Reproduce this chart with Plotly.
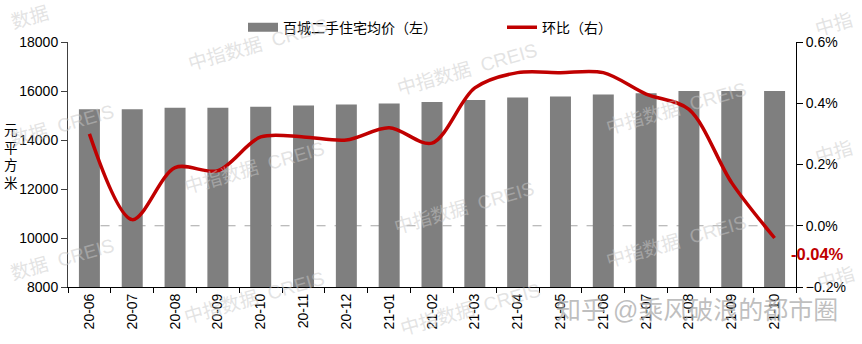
import plotly.graph_objects as go

# Monthly data: 100-city second-hand housing average price and month-on-month change
months = ["20-06", "20-07", "20-08", "20-09", "20-10", "20-11", "20-12",
          "21-01", "21-02", "21-03", "21-04", "21-05", "21-06", "21-07",
          "21-08", "21-09", "21-10"]
avg_price = [15260, 15260, 15320, 15320, 15360, 15410, 15450, 15490, 15550,
             15630, 15730, 15780, 15860, 15910, 16000, 16000, 16000]
mom_change = [0.30, 0.02, 0.19, 0.18, 0.29, 0.29, 0.28, 0.32, 0.27,
              0.45, 0.50, 0.50, 0.50, 0.43, 0.38, 0.14, -0.04]

price_name = "百城二手住宅均价（左）"
mom_name = "环比（右）"
unit_label = "元<br>平<br>方<br>米"
watermark = "中指数据  CREIS"
credit = "知乎 @乘风破浪的都市圈"

BAR_GRAY = "#7F7F7F"
LINE_RED = "#C00000"
FONT = "Arial, Liberation Sans, Noto Sans CJK SC, sans-serif"

W, H = 862, 344
M_L, M_R, M_T, M_B = 68, 66, 33, 57
PW, PH = W - M_L - M_R, H - M_T - M_B


def px_x(x):
    return (x - M_L) / PW


def px_y(y):
    return (H - M_B - y) / PH


fig = go.Figure()

fig.add_trace(go.Bar(
    x=months, y=avg_price, name=price_name, marker_color=BAR_GRAY,
    marker_line_width=0, width=0.49, showlegend=False, yaxis="y",
))
# legend entry drawn as a wide block for the bar series
fig.add_trace(go.Scatter(
    x=[months[0]], y=[None], mode="lines", name=price_name,
    line=dict(color=BAR_GRAY, width=9), yaxis="y",
))
fig.add_trace(go.Scatter(
    x=months, y=mom_change, name=mom_name, mode="lines",
    line=dict(color=LINE_RED, width=3.5, shape="spline", smoothing=0.9),
    yaxis="y2",
))

# zero reference for the month-on-month change
fig.add_shape(type="line", xref="paper", yref="y2", x0=0.02, x1=1, y0=0, y1=0,
              line=dict(color="#A6A6A6", width=1.2, dash="dash"), layer="below")

# value label at the latest month
last = mom_change[-1]
fig.add_annotation(x=months[-1], y=last, xref="x", yref="y2",
                   text=f"<b>{last:.2f}%</b>", showarrow=False,
                   xanchor="left", yanchor="middle", xshift=14, yshift=-16,
                   font=dict(family=FONT, size=16.5, color=LINE_RED))

# vertical unit label for the left axis
fig.add_annotation(x=px_x(11), y=px_y(152), xref="paper", yref="paper",
                   text=unit_label, showarrow=False, xanchor="center",
                   yanchor="middle", font=dict(family=FONT, size=13.5, color="#000"))

# background watermarks (text, centre x, centre y in page pixels)
wm_spots = [("数据", 30, 8), ("数据  CREIS", 62, 120), ("数据  CREIS", 62, 258),
            (watermark, 258, 36), (watermark, 255, 163), (watermark, 255, 298),
            (watermark, 467, 62), (watermark, 465, 205), (watermark, 470, 310),
            (watermark, 676, 102), (watermark, 676, 240),
            ("中指", 834, 15), ("中指", 834, 148), ("中指", 836, 278)]
for wtext, wx, wy in wm_spots:
    fig.add_annotation(x=px_x(wx), y=px_y(wy), xref="paper", yref="paper",
                       text=wtext, showarrow=False, textangle=-16,
                       xanchor="center", yanchor="middle",
                       font=dict(family=FONT, size=19,
                                 color="rgba(200,200,200,0.5)"))

fig.add_annotation(x=px_x(697), y=px_y(311), xref="paper", yref="paper",
                   text=credit, showarrow=False, xanchor="center",
                   yanchor="middle",
                   font=dict(family=FONT, size=25, color="rgba(170,170,170,0.75)"))

fig.update_layout(
    width=W, height=H,
    margin=dict(l=M_L, r=M_R, t=M_T, b=M_B),
    paper_bgcolor="white", plot_bgcolor="white",
    font=dict(family=FONT, size=14, color="#000"),
    legend=dict(orientation="h", x=px_x(243), y=px_y(18), xanchor="left",
                yanchor="middle", font=dict(size=14), bgcolor="rgba(0,0,0,0)",
                entrywidth=214, entrywidthmode="pixels", itemwidth=30),
    xaxis=dict(type="category", categoryorder="array", categoryarray=months,
               range=[-0.5, len(months) - 0.5],
               showline=True, linecolor="#000", linewidth=1,
               ticks="outside", tickson="boundaries", ticklen=5,
               tickcolor="#000", tickangle=-90, tickfont=dict(size=14),
               showgrid=False, zeroline=False),
    yaxis=dict(range=[8000, 18000], dtick=2000, tickformat="d", showline=True,
               linecolor="#404040", linewidth=1, ticks="outside", ticklen=6,
               tickcolor="#404040", showgrid=False, zeroline=False,
               tickfont=dict(size=14)),
    yaxis2=dict(range=[-0.2, 0.6], dtick=0.2, tickformat=".1f",
                ticksuffix="%", overlaying="y", side="right", showline=True,
                linecolor="#000", linewidth=1, ticks="outside", ticklen=6,
                tickcolor="#000", showgrid=False, zeroline=False,
                tickfont=dict(size=14)),
)

fig.write_html("out.html")
